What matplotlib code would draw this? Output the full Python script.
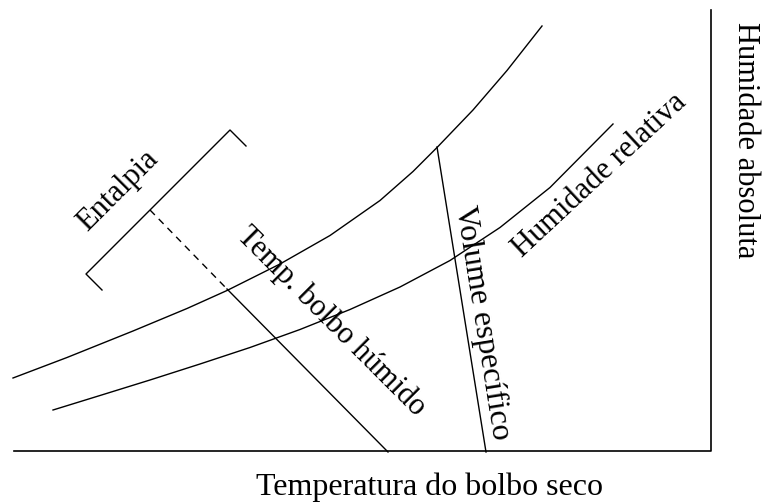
import matplotlib
matplotlib.use("Agg")
import matplotlib.pyplot as plt

# schematic psychrometric chart, coordinates in drawing units (y grows downwards)
sat_x = [13, 67, 133, 187, 227, 280, 330, 380, 413, 438, 473, 507, 542]
sat_y = [378, 357.5, 331, 308.5, 290.5, 264, 235.5, 200.5, 171.5, 146.5, 110, 70.5, 26]

rh_x = [53, 100, 150, 200, 250, 300, 350, 400, 450, 500, 550, 613]
rh_y = [410, 395.5, 380, 364, 347.5, 329.5, 309.5, 287, 260.5, 227.5, 187.5, 124]

wet_x = [227, 388]
wet_y = [289, 452]
enth_dash_x = [150, 227]
enth_dash_y = [210, 289]

vol_x = [437, 486]
vol_y = [147, 452]

bracket_x = [102, 86, 230, 246]
bracket_y = [290, 274, 130, 146]

axis_x = [14, 711, 711]
axis_y = [451, 451, 10]

labels = ["Entalpia", "Temp. bolbo húmido", "Volume específico",
          "Humidade relativa", "Humidade absoluta", "Temperatura do bolbo seco"]
label_x = [118, 331, 482, 600, 745, 430]
label_y = [191, 322, 323, 175, 140, 487]
label_rot = [45, -45, -80.9, 43, -90, 0]
label_size = [22, 22, 23, 22, 22, 23]

plt.rcParams['font.family'] = ['Liberation Serif', 'DejaVu Serif']

fig = plt.figure(figsize=(7.62, 5.04), dpi=100)
ax = fig.add_axes([0, 0, 1, 1])
ax.set_xlim(0, 762)
ax.set_ylim(504, 0)
ax.axis('off')

lw = 1.0
ax.plot(sat_x, sat_y, color='black', lw=lw)
ax.plot(rh_x, rh_y, color='black', lw=lw)
ax.plot(wet_x, wet_y, color='black', lw=lw)
ax.plot(enth_dash_x, enth_dash_y, color='black', lw=lw, linestyle=(0, (5, 4)))
ax.plot(vol_x, vol_y, color='black', lw=lw)
ax.plot(bracket_x, bracket_y, color='black', lw=lw)
ax.plot(axis_x, axis_y, color='black', lw=1.2)

for txt, x, y, r, s in zip(labels, label_x, label_y, label_rot, label_size):
    ax.text(x, y, txt, rotation=r, rotation_mode='anchor', ha='center', va='center',
            fontsize=s)

fig.savefig('out.png', dpi=100)
